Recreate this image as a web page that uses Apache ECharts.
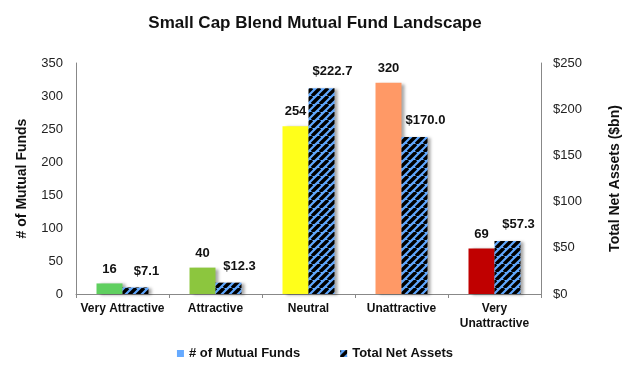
<!DOCTYPE html>
<html>
<head>
<meta charset="utf-8">
<script src="https://cdn.jsdelivr.net/npm/echarts@6/dist/echarts.min.js"></script>
<style>html,body{margin:0;padding:0;background:#fff;}#c{width:630px;height:368px;}</style>
</head>
<body>
<div id="c"></div>
<script>
const categories = ['Very Attractive', 'Attractive', 'Neutral', 'Unattractive', 'Very\nUnattractive'];
const fundCounts = [16, 40, 254, 320, 69];
const netAssets = [7.1, 12.3, 222.7, 170.0, 57.3];
const fundColors = ['#5fcf5f', '#8cc63e', '#ffff1a', '#ff9966', '#c00000'];
const leftTicks = { min: 0, max: 350, interval: 50 };
const rightTicks = { min: 0, max: 250, interval: 50 };

function hatch() {
  const s = 8;
  const cv = document.createElement('canvas');
  cv.width = s; cv.height = s;
  const g = cv.getContext('2d');
  g.fillStyle = '#60a8ff';
  g.fillRect(0, 0, s, s);
  g.strokeStyle = '#000';
  g.lineWidth = 3.4;
  g.beginPath();
  for (let k = -1; k <= 1; k++) {
    g.moveTo(k * s, s);
    g.lineTo(k * s + s, 0);
  }
  g.stroke();
  return cv;
}
const pat = { image: hatch(), repeat: 'repeat' };

const chart = echarts.init(document.getElementById('c'));
const ff = 'Liberation Sans, Arial, sans-serif';
const shadow = { shadowColor: 'rgba(0,0,0,0.35)', shadowBlur: 3, shadowOffsetX: 3, shadowOffsetY: 1 };
chart.setOption({
  animation: false,
  textStyle: { fontFamily: ff },
  title: {
    text: 'Small Cap Blend Mutual Fund Landscape',
    left: 'center', top: 10,
    textStyle: { fontSize: 17, fontWeight: 'bold', color: '#111', fontFamily: ff }
  },
  legend: {
    bottom: 3, left: 'center', itemGap: 40, itemWidth: 7, itemHeight: 7,
    textStyle: { fontSize: 13, fontWeight: 'bold', color: '#111', fontFamily: ff },
    data: [
      { name: '# of Mutual Funds', icon: 'rect', itemStyle: { color: '#66aaff' } },
      { name: 'Total Net Assets', icon: 'rect', itemStyle: { color: pat } }
    ]
  },
  grid: { left: 76, right: 88, top: 63, bottom: 74 },
  xAxis: {
    type: 'category', data: categories,
    axisLine: { lineStyle: { color: '#888' } },
    axisTick: { show: true, length: 4, lineStyle: { color: '#888' } },
    axisLabel: { color: '#111', fontWeight: 'bold', fontSize: 12, lineHeight: 15, margin: 7, interval: 0 }
  },
  yAxis: [
    {
      type: 'value', min: leftTicks.min, max: leftTicks.max, interval: leftTicks.interval,
      name: '# of Mutual Funds', nameLocation: 'middle', nameGap: 47, nameRotate: 90,
      nameTextStyle: { fontSize: 14, fontWeight: 'bold', color: '#111' },
      axisLine: { show: true, lineStyle: { color: '#888' } },
      axisTick: { show: false }, splitLine: { show: false },
      axisLabel: { color: '#222', fontSize: 13, margin: 13 }
    },
    {
      type: 'value', min: rightTicks.min, max: rightTicks.max, interval: rightTicks.interval,
      name: 'Total Net Assets ($bn)', nameLocation: 'middle', nameGap: 67, nameRotate: 90,
      nameTextStyle: { fontSize: 14, fontWeight: 'bold', color: '#111' },
      axisLine: { show: true, lineStyle: { color: '#888' } },
      axisTick: { show: false }, splitLine: { show: false },
      axisLabel: { color: '#222', fontSize: 13, margin: 12, formatter: v => '$' + v }
    }
  ],
  series: [
    {
      name: '# of Mutual Funds', type: 'bar', yAxisIndex: 0, barWidth: 26, barGap: '0%',
      data: fundCounts.map((v, i) => ({ value: v, itemStyle: Object.assign({ color: fundColors[i] }, shadow) })),
      itemStyle: { color: '#66aaff' },
      label: { show: true, position: 'top', distance: 8, fontSize: 13, fontWeight: 'bold', color: '#111' }
    },
    {
      name: 'Total Net Assets', type: 'bar', yAxisIndex: 1, barWidth: 26,
      data: netAssets,
      itemStyle: Object.assign({ color: pat }, shadow),
      label: { show: true, position: 'top', distance: 10, fontSize: 13, fontWeight: 'bold', color: '#111',
        formatter: p => '$' + p.value.toFixed(1), offset: [11, 0] }
    }
  ]
});
</script>
</body>
</html>
